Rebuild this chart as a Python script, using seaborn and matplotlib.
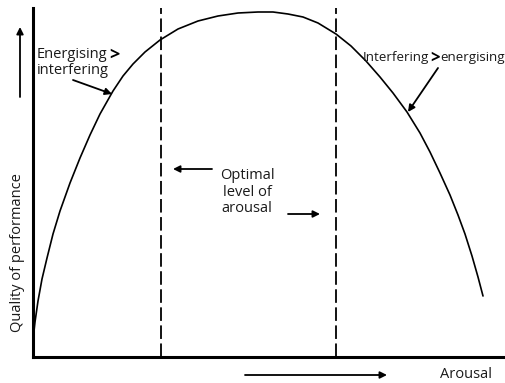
#!/usr/bin/env python3
# -*- coding: utf-8 -*-

"""
Inverted-U curve: quality of performance against arousal.
"""

import matplotlib
matplotlib.use('Agg')
import matplotlib.pyplot as plt
import pandas as pd
import seaborn as sns

# values (arbitrary units)
arousal = [0, 2, 5, 9, 14, 20, 27, 37, 47, 57, 67, 80, 90, 100, 112, 127,
           145, 165, 185, 205, 225, 240, 255, 270, 285, 303, 318, 333, 347,
           360, 374, 387, 397, 407, 417, 425, 432, 439, 445, 450]
performance = [17, 35, 56, 78, 99, 123, 146, 174, 199, 222, 243, 266, 281,
               293, 305, 317, 328, 336, 341, 344, 345, 345, 343, 340, 334,
               323, 311, 296, 280, 264, 245, 224, 205, 184, 162, 142, 123,
               101, 80, 61]
optimal_bounds = [128, 303]

x_label = 'Arousal'
y_label = 'Quality of performance'
left_note = ['Energising', 'interfering']
right_note = ['Interfering', 'energising']
optimal_note = 'Optimal\nlevel of\narousal'

sns.set_style('white')
plt.rcParams['font.family'] = ['Open Sans', 'DejaVu Sans']

df = pd.DataFrame({'arousal': arousal, 'performance': performance})

fig = plt.figure(figsize=(5.05, 3.83), dpi=100)
ax = fig.add_axes([33 / 505, 26 / 383, 472 / 505, 349 / 383])

sns.lineplot(data=df, x='arousal', y='performance', ax=ax, sort=False,
             color='black', linewidth=1.2, solid_joinstyle='round')

for xb in optimal_bounds:
    ax.axvline(xb, color='black', linewidth=1.3, linestyle=(0, (7.5, 2.5)))

ax.set_xlim(0, 472)
ax.set_ylim(0, 349)
ax.set_xticks([])
ax.set_yticks([])
ax.set_xlabel('')
ax.set_ylabel('')
sns.despine(ax=ax, top=True, right=True)
for side in ['left', 'bottom']:
    ax.spines[side].set_linewidth(2.2)
    ax.spines[side].set_color('black')

txt = dict(fontsize=10.5, color='#1a1a1a')
arrow = dict(arrowstyle='-|>', color='black', lw=1.3,
             mutation_scale=10, shrinkA=0, shrinkB=0)

# axis captions with their arrows
ax.text(-15, 104, y_label, rotation=90, ha='center', va='center',
        clip_on=False, **txt)
ax.annotate('', xy=(-13, 330), xytext=(-13, 260), arrowprops=arrow,
            annotation_clip=False)
ax.text(433, -18, x_label, ha='center', va='center', clip_on=False, **txt)
ax.annotate('', xy=(354, -18), xytext=(212, -18), arrowprops=arrow,
            annotation_clip=False)

# left note
t = ax.text(4, 303, left_note[0], ha='left', va='center', **txt)
ax.annotate('>', xy=(1, 0.45), xycoords=t, xytext=(1, 0),
            textcoords='offset points', ha='left', va='center',
            fontsize=13, fontweight='bold', color='black')
ax.text(4, 287, left_note[1], ha='left', va='center', **txt)
ax.annotate('', xy=(79, 263), xytext=(40, 277), arrowprops=arrow)

# right note (slightly smaller so it fits inside the figure)
small = dict(fontsize=9.6, color='#1a1a1a')
t = ax.text(330, 300, right_note[0], ha='left', va='center', **small)
g = ax.annotate('>', xy=(1, 0.45), xycoords=t, xytext=(0.5, 0),
                textcoords='offset points', ha='left', va='center',
                fontsize=12, fontweight='bold', color='black')
ax.annotate(right_note[1], xy=(1, 0.5), xycoords=(g, t), xytext=(0.5, 0),
            textcoords='offset points', ha='left', va='center', **small)
ax.annotate('', xy=(375, 245), xytext=(405, 289), arrowprops=arrow)

# optimal level
ax.text(214, 165, optimal_note, ha='center', va='center',
        linespacing=1.15, **txt)
ax.annotate('', xy=(140, 188), xytext=(179, 188), arrowprops=arrow)
ax.annotate('', xy=(287, 143), xytext=(255, 143), arrowprops=arrow)

fig.savefig('out.png', dpi=100)
